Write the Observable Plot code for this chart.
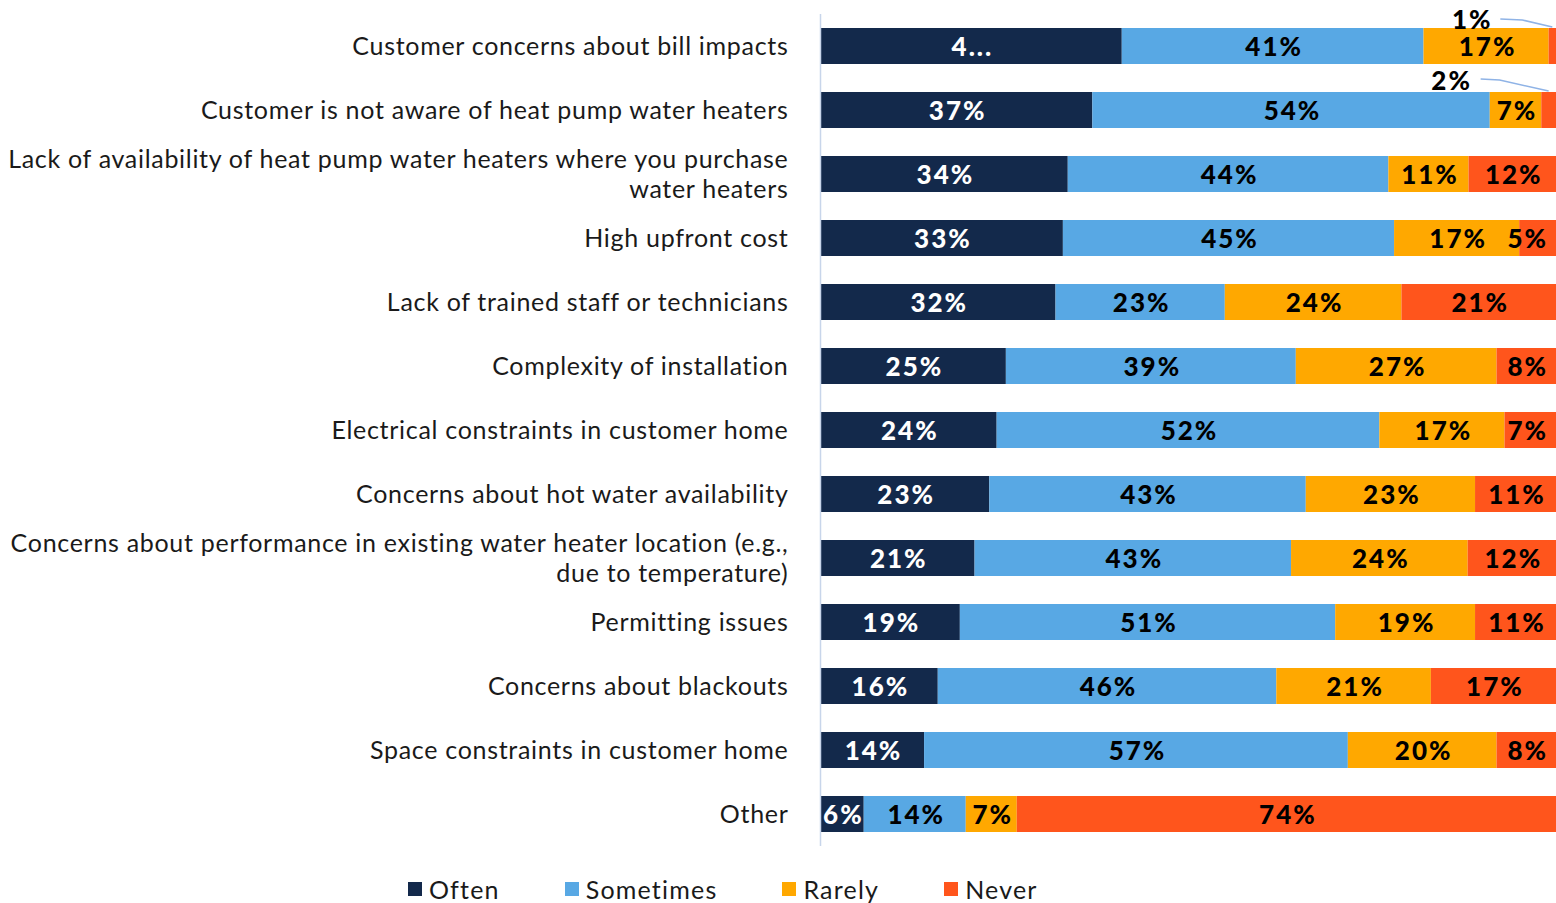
<!DOCTYPE html>
<html><head><meta charset="utf-8">
<script src="https://cdn.jsdelivr.net/npm/d3@7"></script>
<script src="https://cdn.jsdelivr.net/npm/@observablehq/plot@0.6"></script>
<style>
body{margin:0;background:#fff;font-family:Lato,"Noto Sans",sans-serif;}
#legend{display:flex;gap:65px;margin-left:408px;margin-top:15px;font-size:25px;letter-spacing:1.2px;line-height:28px;color:#1a1a1a;}
#legend .item{display:flex;align-items:center;}
#legend .sw{width:14px;height:14px;margin-right:7px;display:inline-block;}
</style></head><body><div id="chart"></div><div id="legend"></div>
<script>
const categories = [
  "Customer concerns about bill impacts",
  "Customer is not aware of heat pump water heaters",
  "Lack of availability of heat pump water heaters where you purchase water heaters",
  "High upfront cost",
  "Lack of trained staff or technicians",
  "Complexity of installation",
  "Electrical constraints in customer home",
  "Concerns about hot water availability",
  "Concerns about performance in existing water heater location (e.g., due to temperature)",
  "Permitting issues",
  "Concerns about blackouts",
  "Space constraints in customer home",
  "Other"
];
const tickLabels = [
  "Customer concerns about bill impacts",
  "Customer is not aware of heat pump water heaters",
  "Lack of availability of heat pump water heaters where you purchase\nwater heaters",
  "High upfront cost",
  "Lack of trained staff or technicians",
  "Complexity of installation",
  "Electrical constraints in customer home",
  "Concerns about hot water availability",
  "Concerns about performance in existing water heater location (e.g.,\ndue to temperature)",
  "Permitting issues",
  "Concerns about blackouts",
  "Space constraints in customer home",
  "Other"
];
const seriesNames = ["Often", "Sometimes", "Rarely", "Never"];
const often     = [41, 37, 34, 33, 32, 25, 24, 23, 21, 19, 16, 14, 6];
const sometimes = [41, 54, 44, 45, 23, 39, 52, 43, 43, 51, 46, 57, 14];
const rarely    = [17,  7, 11, 17, 24, 27, 17, 23, 24, 19, 21, 20, 7];
const never     = [ 1,  2, 12,  5, 21,  8,  7, 11, 12, 11, 17,  8, 74];
const colors = ["#13294b", "#58a8e4", "#ffa800", "#ff551c"];
const labelOverrides = [{category: categories[0], series: "Often", text: "4..."}];
const callouts = [{category: categories[0], series: "Never"}, {category: categories[1], series: "Never"}];

const seriesValues = [often, sometimes, rarely, never];
const data = [];
categories.forEach((c, i) => seriesNames.forEach((s, j) => data.push({category: c, series: s, value: seriesValues[j][i]})));

const isCallout = d => callouts.some(c => c.category === d.category && c.series === d.series);
const labelOf = d => {
  const o = labelOverrides.find(c => c.category === d.category && c.series === d.series);
  return o ? o.text : d.value + "%";
};
const tickMap = new Map(categories.map((c, i) => [c, tickLabels[i]]));

const W = 1556;
const calloutLayout = [
  {tx: -81, ty: -9, x1: -52, y1: -9, x2: -30, y2: -8, y3: -1},
  {tx: -98, ty: -12, x1: -68, y1: -13, x2: -49, y2: -12, y3: -1}
];

const calloutMark = (index, scales) => {
  const g = d3.create("svg:g").attr("aria-label", "callout");
  callouts.forEach((c, k) => {
    const i = categories.indexOf(c.category);
    const vals = seriesValues.map(a => a[i]);
    const total = d3.sum(vals);
    const j = seriesNames.indexOf(c.series);
    const start = d3.sum(vals.slice(0, j)) / total;
    const mid = scales.x(start + vals[j] / total / 2);
    const top = scales.y(c.category);
    const L = calloutLayout[k];
    g.append("path")
      .attr("d", `M${mid + L.x1},${top + L.y1}L${mid + L.x2},${top + L.y2}L${mid},${top + L.y3}`)
      .attr("fill", "none").attr("stroke", "#8fb3e6").attr("stroke-width", 1.5);
    g.append("text")
      .attr("x", mid + L.tx + 1).attr("y", top + L.ty)
      .attr("text-anchor", "middle").attr("dominant-baseline", "central")
      .attr("font-size", 26).attr("font-weight", 900).attr("letter-spacing", 2)
      .attr("fill", "#000")
      .text(vals[j] + "%");
  });
  return g.node();
};

const stackOpts = {x: "value", y: "category", z: "series", offset: "normalize", order: seriesNames};
const valueText = {fontSize: 26, fontWeight: 900, dx: 1, dy: 1.5};

const chart = Plot.plot({
  width: W,
  height: 860,
  marginLeft: 820,
  marginRight: 0,
  marginTop: 14,
  marginBottom: 14,
  style: {fontFamily: "Lato, 'Noto Sans', sans-serif", background: "#fff"},
  x: {axis: null},
  y: {domain: categories, paddingInner: 0.44, paddingOuter: 0.22, label: null},
  color: {domain: seriesNames, range: colors},
  marks: [
    Plot.barX(data, {...stackOpts, fill: "series"}),
    Plot.ruleX([0], {stroke: "#c8d5ea", strokeWidth: 1.5}),
    Plot.axisY({tickSize: 0, tickPadding: 32, fontSize: 25, lineHeight: 1.2, dy: -1.5,
      fill: "#1a1a1a", tickFormat: d => tickMap.get(d), label: null}),
    Plot.text(data, Plot.stackX({...stackOpts, ...valueText,
      text: d => (d.series === "Often" && !isCallout(d)) ? labelOf(d) : "",
      fill: "#fff"})),
    Plot.text(data, Plot.stackX({...stackOpts, ...valueText,
      text: d => (d.series !== "Often" && !isCallout(d)) ? labelOf(d) : "",
      fill: "#000"})),
    calloutMark
  ]
});
d3.select(chart).selectAll("g[aria-label='y-axis tick label']").attr("letter-spacing", 0.7);
const valueLabels = d3.select(chart).selectAll("g[aria-label='text'] text").attr("letter-spacing", 2);
document.getElementById("chart").appendChild(chart);
// keep labels inside the plot's right edge, as the original does
valueLabels.each(function() {
  const r = this.getBoundingClientRect();
  const limit = W - 8;
  if (r.right > limit) d3.select(this).attr("x", -(r.right - limit));
});

const legend = d3.select("#legend");
seriesNames.forEach((s, j) => {
  const it = legend.append("div").attr("class", "item");
  it.append("span").attr("class", "sw").style("background", colors[j]);
  it.append("span").text(s);
});
</script></body></html>
